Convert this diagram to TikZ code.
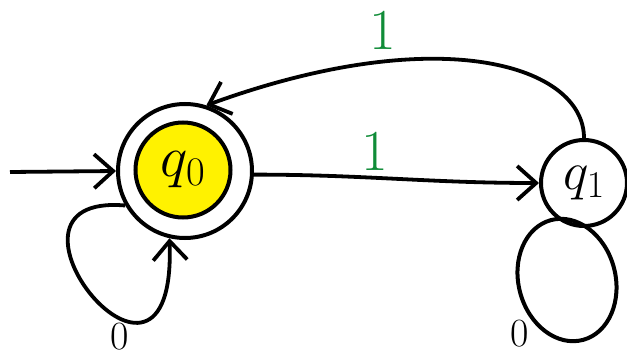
\RequirePackage{fix-cm}
\documentclass[tikz,border=0pt]{standalone}
\usepackage{tikz}
\usetikzlibrary{positioning,arrows.meta,shapes.geometric}
\definecolor{labelgreen}{RGB}{16,140,56}

\begin{document}
\begin{tikzpicture}[x=1pt, y=1pt,
				state/.style={circle, draw, line width=4pt, inner sep=0pt},
				arc/.style={-{Straight Barb[length=19pt,width=34pt]}, line width=3.8pt},
				lbl/.style={text=labelgreen, font=\fontsize{58}{66}\selectfont},
				zero/.style={inner sep=1pt, font=\fontsize{40}{46}\selectfont}
				]
				\useasboundingbox (0,0) rectangle (627,357);
				\node[state, minimum size=134pt] (q0) at (185,186) {};
				\node[state, fill=yellow, minimum size=95pt, font=\fontsize{58}{66}\selectfont] (q0in) at (183,187) {$q_0$};
				\node[state, minimum size=86pt, font=\fontsize{54}{62}\selectfont] (q1) at (584,174) {$q_1$};
				\node[ellipse, draw, line width=4pt, minimum width=97pt, minimum height=124pt, rotate=15] (q1loop) at (567,77) {};
				\coordinate (start) at (10,185);
				\node[lbl] (one) at (375,206) {1};
				\node[lbl] (back) at (383,327) {1};
				\node[zero] (zeroa) at (120,20) {0};
				\node[zero] (zerob) at (520,23) {0};
				\draw[arc] (start) to (q0.west);
				\draw[arc] (q0.-3) to [out=0, in=180] (q1.west);
				\draw[arc] (q1.north) to [out=90, in=20, out distance=72pt, in distance=250pt] (q0.72);
				\draw[arc] (q0.210) to [out=175, in=272, out distance=155pt, in distance=210pt] (q0.257);
			\end{tikzpicture}
\end{document}
